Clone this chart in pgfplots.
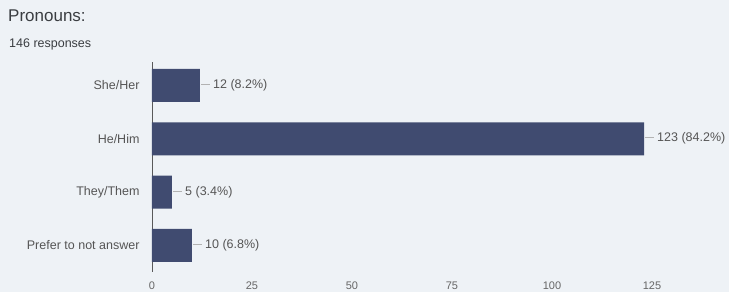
\documentclass[border=0pt]{standalone}
\usepackage{pgfplots}
\pgfplotsset{compat=1.18}
\usepackage{fontspec}
\setmainfont{Liberation Sans}
\definecolor{bg}{HTML}{EEF2F6}
\definecolor{bar}{HTML}{404B70}
\definecolor{titlec}{HTML}{3A3D41}
\definecolor{labc}{HTML}{555555}
\definecolor{tickc}{HTML}{666666}
\newcommand{\lead}{\textcolor{black!30}{\rule[0.32em]{9pt}{0.5pt}}\hspace{3pt}}
\begin{document}
\begin{tikzpicture}
\fill[bg] (0,0) rectangle (729pt,292pt);
\node[anchor=base west, inner sep=0, text=titlec, font=\fontsize{17}{20}\selectfont] at (8pt,270pt) {Pronouns:};
\node[anchor=base west, inner sep=0, text=titlec, font=\fontsize{12.5}{15}\selectfont] at (9pt,244pt) {146 responses};
\begin{axis}[
  at={(152pt,20pt)}, anchor=south west,
  scale only axis, width=576pt, height=210pt,
  xmin=0, xmax=144, ymin=-0.44, ymax=3.5,
  y dir=reverse,
  axis y line=left, axis x line=bottom,
  axis line style={-},
  x axis line style={draw=none},
  y axis line style={draw=black!65, line width=0.7pt},
  major tick length=0pt,
  xtick={0,25,50,75,100,125},
  ytick={0,1,2,3},
  yticklabels={She/Her,He/Him,They/Them,Prefer to not answer},
  /pgf/number format/assume math mode=true,
  xticklabel style={font=\fontsize{11}{13}\selectfont, text=tickc, yshift=-6pt},
  yticklabel style={font=\fontsize{12.5}{15}\selectfont, text=labc, anchor=east, xshift=-9pt},
  xbar, bar width=33pt,
  point meta=explicit symbolic,
  nodes near coords={\lead\pgfplotspointmeta},
  every node near coord/.append style={anchor=west, inner sep=0pt, xshift=1pt, font=\fontsize{12.5}{15}\selectfont, text=labc},
  clip=false,
]
\addplot[fill=bar, draw=none] coordinates {
  (12,0) [12 (8.2\%)]
  (123,1) [123 (84.2\%)]
  (5,2) [5 (3.4\%)]
  (10,3) [10 (6.8\%)]
};
\end{axis}
\pgfresetboundingbox
\useasboundingbox (0,0) rectangle (729pt,292pt);
\end{tikzpicture}
\end{document}
